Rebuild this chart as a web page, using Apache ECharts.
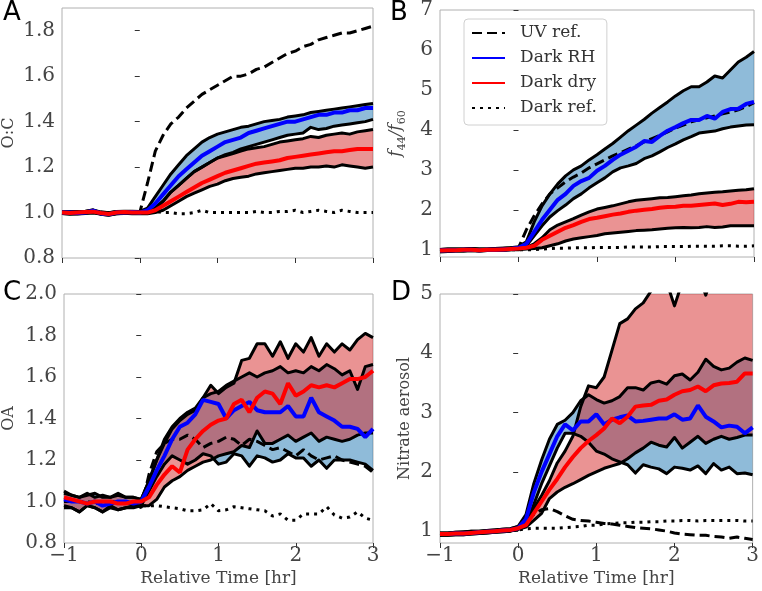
<!DOCTYPE html>
<html><head><meta charset="utf-8">
<script src="https://cdn.jsdelivr.net/npm/echarts@6/dist/echarts.min.js"></script>
<style>html,body{margin:0;padding:0;background:#fff}#c{width:762px;height:591px}</style>
</head><body><div id="c"></div>
<script>
// time axis (hours relative to start)
const times = [-1,-0.9,-0.8,-0.7,-0.6,-0.5,-0.4,-0.3,-0.2,-0.1,0,0.1,0.2,0.3,0.4,0.5,0.6,0.7,0.8,0.9,1,1.1,1.2,1.3,1.4,1.5,1.6,1.7,1.8,1.9,2,2.1,2.2,2.3,2.4,2.5,2.6,2.7,2.8,2.9,3];
const xTicks = [-1,0,1,2,3];

// Panel A: O:C
const aUV = [1.0,1.0,1.0,1.0,1.0,1.0,1.0,1.0,1.0,1.0, 1.0, 1.13,1.27,1.34,1.39,1.42,1.46,1.49,1.52,1.54,1.56, 1.58,1.60,1.60,1.61,1.63,1.64,1.66,1.68,1.70,1.71, 1.73,1.74,1.76,1.77,1.78,1.79,1.79,1.80,1.81,1.82];
const aRH = [1.0,1.0,0.998,1.0,1.008,0.996,0.992,1.0,1.0,1.002, 1.0, 1.01,1.04,1.08,1.12,1.16,1.19,1.22,1.25,1.27,1.29, 1.31,1.32,1.33,1.35,1.36,1.37,1.38,1.39,1.40,1.40, 1.41,1.42,1.43,1.43,1.44,1.44,1.45,1.45,1.46,1.46];
const aRHhi = [1.004,1.004,1.003,1.005,1.012,1.0,0.998,1.005,1.005,1.006, 1.005, 1.02,1.07,1.12,1.17,1.21,1.25,1.28,1.31,1.33,1.345, 1.355,1.365,1.375,1.38,1.39,1.40,1.405,1.41,1.42,1.425, 1.43,1.44,1.445,1.45,1.455,1.46,1.465,1.47,1.475,1.48];
const aRHlo = [0.996,0.995,0.994,0.996,1.003,0.992,0.988,0.995,0.996,0.997, 0.996, 1.0,1.02,1.05,1.09,1.12,1.15,1.18,1.20,1.22,1.24, 1.255,1.265,1.28,1.29,1.30,1.31,1.32,1.33,1.34,1.345, 1.35,1.375,1.365,1.37,1.38,1.385,1.39,1.395,1.40,1.41];
const aDry = [1.0,0.998,1.0,1.002,1.004,0.998,0.994,1.0,1.002,1.0, 1.0, 1.0,1.01,1.03,1.05,1.07,1.09,1.11,1.13,1.145,1.16, 1.175,1.185,1.195,1.205,1.215,1.22,1.225,1.23,1.24,1.245, 1.25,1.255,1.26,1.265,1.27,1.27,1.275,1.28,1.28,1.28];
const aDryHi = [1.004,1.003,1.005,1.006,1.01,1.003,0.999,1.005,1.006,1.005, 1.004, 1.0,1.02,1.05,1.09,1.12,1.15,1.18,1.20,1.22,1.24, 1.25,1.26,1.27,1.28,1.285,1.29,1.30,1.31,1.315,1.32, 1.325,1.335,1.33,1.34,1.345,1.35,1.345,1.355,1.36,1.365];
const aDryLo = [0.996,0.993,0.995,0.997,0.998,0.993,0.989,0.995,0.997,0.995, 0.995, 0.995,1.0,1.01,1.03,1.05,1.07,1.085,1.10,1.115,1.125, 1.14,1.15,1.155,1.16,1.17,1.175,1.18,1.185,1.19,1.195, 1.195,1.20,1.20,1.205,1.20,1.21,1.205,1.20,1.195,1.20];
const aRef = [1.0,1.0,1.0,1.0,1.0,1.0,1.0,1.0,1.0,1.0, 1.0, 1.0,1.005,1.0,1.0,0.995,0.995,1.0,1.01,1.0,1.0, 1.0,1.0,1.0,1.0,1.005,1.0,1.0,1.005,1.005,1.01, 1.0,1.005,1.01,1.005,1.0,1.01,1.005,1.0,1.0,1.0];
const aTicks = [0.8,1.0,1.2,1.4,1.6,1.8];

// Panel B: f44/f60
const bUV = [1.0,0.99,1.0,1.0,1.0,0.99,1.0,1.0,1.01,1.02, 1.05, 1.5,1.85,2.15,2.4,2.55,2.7,2.82,2.92,3.05,3.15, 3.25,3.35,3.43,3.52,3.6,3.7,3.78,3.86,3.95,4.05, 4.12,4.2,4.25,4.3,4.35,4.4,4.45,4.5,4.58,4.68];
const bRH = [0.98,0.99,0.99,1.0,1.0,0.99,1.0,1.0,1.01,1.02, 1.05, 1.15,1.45,1.75,2.0,2.25,2.4,2.6,2.72,2.8,2.98, 3.1,3.25,3.38,3.48,3.58,3.72,3.7,3.85,3.98,4.07, 4.17,4.25,4.25,4.35,4.28,4.45,4.52,4.53,4.65,4.7];
const bRHhi = [1.01,1.02,1.02,1.02,1.03,1.02,1.02,1.03,1.04,1.05, 1.08, 1.2,1.7,2.1,2.4,2.65,2.85,3.0,3.1,3.25,3.38, 3.52,3.66,3.82,3.98,4.12,4.26,4.42,4.56,4.7,4.85, 4.98,5.08,5.08,5.2,5.35,5.3,5.5,5.7,5.82,5.96];
const bRHlo = [0.95,0.96,0.97,0.97,0.98,0.97,0.98,0.98,0.99,1.0, 1.03, 1.1,1.35,1.6,1.82,1.98,2.12,2.28,2.4,2.55,2.68, 2.8,2.95,3.05,3.1,3.16,3.28,3.35,3.45,3.56,3.65, 3.75,3.83,3.92,3.95,3.97,4.03,4.07,4.1,4.12,4.13];
const bDry = [0.98,0.99,0.99,1.0,1.0,0.99,1.0,1.0,1.01,1.02, 1.03, 1.05,1.1,1.25,1.35,1.45,1.55,1.62,1.7,1.77,1.8, 1.84,1.88,1.91,1.95,1.98,2.0,2.02,2.05,2.07,2.08, 2.1,2.1,2.12,2.14,2.16,2.12,2.15,2.2,2.19,2.2];
const bDryHi = [1.01,1.02,1.02,1.02,1.03,1.02,1.02,1.03,1.04,1.05, 1.06, 1.06,1.15,1.3,1.5,1.62,1.7,1.78,1.87,1.95,2.02, 2.06,2.1,2.15,2.2,2.24,2.26,2.28,2.3,2.31,2.33, 2.35,2.37,2.4,2.42,2.44,2.45,2.47,2.49,2.5,2.53];
const bDryLo = [0.95,0.96,0.97,0.97,0.98,0.97,0.98,0.98,0.99,1.0, 1.0, 1.02,1.03,1.05,1.1,1.15,1.22,1.27,1.3,1.33,1.36, 1.4,1.42,1.44,1.46,1.48,1.49,1.5,1.52,1.54,1.55, 1.56,1.55,1.56,1.58,1.56,1.57,1.6,1.6,1.6,1.6];
const bRef = [1.0,1.0,1.0,1.0,1.0,1.0,1.0,1.0,1.0,1.0, 1.0, 1.0,1.0,1.02,1.03,1.04,1.04,1.05,1.05,1.05,1.06, 1.06,1.06,1.06,1.07,1.07,1.07,1.07,1.08,1.08,1.08, 1.08,1.09,1.09,1.09,1.09,1.1,1.1,1.09,1.09,1.1];
const bTicks = [1,2,3,4,5,6,7];

// Panel C: OA
const cUV = [1.0,1.0,1.0,0.99,1.0,1.0,0.99,1.0,1.0,0.99, 0.97, 1.13,1.24,1.28,1.3,1.3,1.32,1.3,1.26,1.28,1.29, 1.31,1.3,1.27,1.3,1.29,1.27,1.25,1.26,1.24,1.22, 1.25,1.22,1.2,1.21,1.22,1.2,1.19,1.18,1.17,1.14];
const cRH = [1.01,1.0,1.0,0.99,1.0,0.98,0.99,1.0,1.0,0.99, 1.0, 1.07,1.15,1.22,1.3,1.36,1.38,1.42,1.49,1.48,1.47, 1.40,1.44,1.46,1.48,1.44,1.43,1.43,1.43,1.46,1.41, 1.41,1.50,1.43,1.41,1.39,1.36,1.36,1.35,1.31,1.35];
const cRHhi = [1.04,1.03,1.02,1.03,1.04,1.02,1.02,1.04,1.02,1.02, 1.01, 1.1,1.2,1.3,1.36,1.4,1.43,1.45,1.5,1.52,1.53, 1.56,1.58,1.6,1.62,1.6,1.62,1.63,1.65,1.62,1.63, 1.62,1.65,1.63,1.66,1.64,1.61,1.63,1.54,1.65,1.66];
const cRHlo = [0.97,0.97,0.95,0.98,0.97,0.95,0.97,0.96,0.97,0.97, 0.98, 1.05,1.12,1.18,1.22,1.2,1.18,1.2,1.23,1.22,1.18, 1.19,1.23,1.22,1.17,1.22,1.21,1.19,1.2,1.23,1.21, 1.21,1.17,1.2,1.16,1.2,1.2,1.2,1.19,1.18,1.15];
const cDry = [1.02,1.01,1.0,0.99,1.0,1.0,1.0,0.99,0.99,1.0, 1.0, 1.02,1.08,1.13,1.17,1.14,1.25,1.3,1.34,1.37,1.39, 1.40,1.47,1.49,1.43,1.5,1.53,1.52,1.47,1.57,1.51, 1.53,1.56,1.55,1.56,1.55,1.57,1.59,1.59,1.6,1.63];
const cDryHi = [1.05,1.03,1.02,1.04,1.02,1.03,1.02,1.03,1.02,1.02, 1.01, 1.1,1.2,1.28,1.35,1.39,1.42,1.44,1.5,1.56,1.52, 1.55,1.57,1.68,1.69,1.76,1.76,1.7,1.77,1.69,1.76, 1.72,1.79,1.7,1.76,1.72,1.76,1.73,1.78,1.81,1.79];
const cDryLo = [0.98,0.97,0.95,0.98,0.97,0.95,0.98,0.96,0.97,0.98, 0.98, 0.98,1.01,1.07,1.1,1.12,1.15,1.17,1.19,1.2,1.22, 1.23,1.24,1.27,1.26,1.34,1.28,1.28,1.3,1.32,1.29, 1.31,1.33,1.29,1.31,1.3,1.29,1.3,1.32,1.33,1.33];
const cRef = [1.0,1.0,1.0,1.0,0.99,1.0,1.0,1.0,0.99,0.99, 0.98, 0.98,0.98,0.975,0.97,0.965,0.955,0.955,0.96,0.99,0.955, 0.96,0.975,0.97,0.965,0.96,0.955,0.93,0.94,0.91,0.91, 0.94,0.94,0.94,0.975,0.935,0.92,0.925,0.95,0.92,0.91];
const cTicks = [0.8,1.0,1.2,1.4,1.6,1.8,2.0];

// Panel D: Nitrate aerosol
const dUV = [0.96,0.95,0.96,0.97,0.97,0.98,0.99,1.0,1.01,1.03, 1.05, 1.15,1.28,1.36,1.38,1.33,1.26,1.2,1.18,1.17,1.15, 1.13,1.12,1.1,1.08,1.06,1.05,1.04,1.02,1.0,0.97, 0.95,0.94,0.93,0.93,0.91,0.9,0.88,0.9,0.88,0.86];
const dRH = [0.95,0.95,0.96,0.96,0.97,0.98,0.99,1.0,1.01,1.02, 1.05, 1.2,1.65,2.0,2.3,2.6,2.8,2.7,2.85,2.85,2.97, 2.8,2.88,2.92,2.95,2.85,2.86,2.88,2.9,2.9,2.97, 2.88,2.9,3.12,2.93,2.85,2.75,2.78,2.76,2.65,2.75];
const dRHhi = [0.97,0.97,0.98,0.98,1.0,1.0,1.01,1.02,1.03,1.04, 1.08, 1.28,1.8,2.2,2.55,2.8,2.87,3.0,3.2,3.3,3.22, 3.16,3.2,3.27,3.42,3.42,3.38,3.5,3.53,3.48,3.62, 3.65,3.55,3.68,3.9,3.78,3.72,3.75,3.85,3.92,3.88];
const dRHlo = [0.93,0.93,0.94,0.94,0.95,0.96,0.97,0.98,0.99,1.0, 1.03, 1.12,1.45,1.8,2.1,2.4,2.65,2.65,2.6,2.5,2.35, 2.3,2.22,2.17,2.12,1.98,2.12,2.08,2.05,1.97,2.08, 2.06,2.03,2.1,1.97,2.14,2.03,2.08,1.97,1.98,1.95];
const dDry = [0.95,0.95,0.96,0.96,0.97,0.98,0.99,1.0,1.01,1.02, 1.05, 1.1,1.3,1.5,1.7,1.88,2.08,2.25,2.4,2.52,2.62, 2.73,2.9,2.82,2.93,3.1,3.12,3.13,3.2,3.22,3.3, 3.36,3.38,3.44,3.36,3.46,3.49,3.5,3.52,3.66,3.66];
const dDryHi = [0.97,0.97,0.98,0.99,1.0,1.0,1.01,1.02,1.03,1.04, 1.08, 1.15,1.38,1.6,1.85,2.15,2.35,2.6,3.1,3.45,3.42, 3.6,4.05,4.5,4.58,4.75,4.85,5.05,5.15,5.2,4.8, 5.2,5.3,5.35,4.98,5.4,5.45,5.5,5.5,5.5,5.5];
const dDryLo = [0.93,0.93,0.94,0.94,0.95,0.96,0.97,0.98,0.99,1.0, 1.03, 1.07,1.18,1.3,1.55,1.66,1.74,1.8,1.87,1.94,2.0, 2.06,2.1,2.14,2.22,2.32,2.4,2.5,2.45,2.42,2.58, 2.4,2.5,2.6,2.48,2.55,2.6,2.55,2.58,2.62,2.62];
const dRef = [0.96,0.96,0.97,0.97,0.98,0.98,0.99,1.0,1.0,1.01, 1.02, 1.04,1.05,1.05,1.05,1.05,1.06,1.07,1.08,1.1,1.1, 1.12,1.13,1.14,1.14,1.15,1.15,1.16,1.16,1.17,1.17, 1.18,1.18,1.17,1.18,1.18,1.18,1.18,1.18,1.17,1.17];
const dTicks = [1,2,3,4,5];

const seriesNames = ['UV ref.','Dark RH','Dark dry','Dark ref.'];
const panelLetters = ['A','B','C','D'];

const SERIF = 'DejaVu Serif';
const panels = [
  {grid:{left:60,top:8,width:313,height:250}, ymin:0.8, ymax:1.9, ticks:aTicks, dec:1, name:'O:C', gap:45, showX:false,
   d:{uv:aUV, rh:aRH, rhHi:aRHhi, rhLo:aRHlo, dry:aDry, dryHi:aDryHi, dryLo:aDryLo, ref:aRef}},
  {grid:{left:440,top:8,width:314,height:249}, ymin:0.82, ymax:7, ticks:bTicks, dec:0, name:'{i|f}{s|44}{n|/}{i|f}{s|60}', gap:32, showX:false,
   d:{uv:bUV, rh:bRH, rhHi:bRHhi, rhLo:bRHlo, dry:bDry, dryHi:bDryHi, dryLo:bDryLo, ref:bRef}},
  {grid:{left:60,top:294,width:313,height:249}, ymin:0.8, ymax:2.0, ticks:cTicks, dec:1, name:'OA', gap:47, showX:true,
   d:{uv:cUV, rh:cRH, rhHi:cRHhi, rhLo:cRHlo, dry:cDry, dryHi:cDryHi, dryLo:cDryLo, ref:cRef}},
  {grid:{left:440,top:294,width:314,height:249}, ymin:0.8, ymax:5, ticks:dTicks, dec:0, name:'Nitrate aerosol', gap:27, showX:true,
   d:{uv:dUV, rh:dRH, rhHi:dRHhi, rhLo:dRHlo, dry:dDry, dryHi:dDryHi, dryLo:dDryLo, ref:dRef}}
];

function pts(arr){ return times.map((t,i)=>[t, arr[i]]); }

const grids=[], xAxes=[], yAxes=[], series=[];
panels.forEach((p,i)=>{
  grids.push(Object.assign({show:true, borderColor:'#b0b0b0', borderWidth:1, backgroundColor:'transparent', containLabel:false}, p.grid));
  xAxes.push({type:'value', gridIndex:i, min:-1, max:3,
    axisLine:{show:false}, splitLine:{show:false},
    axisTick:{show:true, customValues:xTicks, length:5, lineStyle:{color:'#333', width:1}},
    axisLabel:{show:p.showX, customValues:xTicks, margin:3, fontFamily:SERIF, fontSize:20, color:'#444',
      formatter:v=> v<0 ? '\u2212'+Math.abs(v) : String(v)},
    name:p.showX?'Relative Time [hr]':'', nameLocation:'middle', nameGap:27,
    nameTextStyle:{fontFamily:SERIF, fontSize:17, color:'#444'}
  });
  yAxes.push({type:'value', gridIndex:i, min:p.ymin, max:p.ymax,
    axisLine:{show:false}, splitLine:{show:false},
    axisTick:{show:true, customValues:p.ticks, length:5, lineStyle:{color:'#333', width:1}},
    axisLabel:{customValues:p.ticks, margin:7, fontFamily:SERIF, fontSize:20, color:'#444',
      formatter:v=> v.toFixed(p.dec)},
    name:p.name, nameLocation:'middle', nameGap:p.gap, nameRotate:90,
    nameTextStyle:{fontFamily:SERIF, fontSize:16, color:'#444',
      rich:{ i:{fontFamily:SERIF, fontStyle:'italic', fontSize:17, color:'#444', lineHeight:24, verticalAlign:'middle'},
             s:{fontFamily:SERIF, fontSize:11, color:'#444', lineHeight:24, verticalAlign:'bottom'},
             n:{fontFamily:SERIF, fontStyle:'italic', fontSize:17, color:'#444', lineHeight:24, verticalAlign:'middle'} }}
  });
  const base = {type:'line', xAxisIndex:i, yAxisIndex:i, symbol:'none', silent:true, animation:false};
  // shaded bands drawn as polygons through the axes' coordinate mapping
  [['rh','rgba(31,119,180,0.5)'],['dry','rgba(214,39,40,0.5)']].forEach(([k,col])=>{
    const lo=p.d[k+'Lo'], hi=p.d[k+'Hi'];
    series.push({type:'custom', name:'_band'+i+k, xAxisIndex:i, yAxisIndex:i, silent:true, clip:true, z:1,
      data:[[times[0], lo[0]]],
      renderItem:(params, api)=>{
        const up = times.map((t,j)=>api.coord([t, hi[j]]));
        const dn = times.map((t,j)=>api.coord([t, lo[j]])).reverse();
        const cs = params.coordSys;
        return {type:'polygon', shape:{points:up.concat(dn)}, style:{fill:col, stroke:null},
          clipPath:{type:'rect', shape:{x:cs.x, y:cs.y, width:cs.width, height:cs.height}}};
      }});
  });
  // black band edges
  ['rhLo','rhHi','dryLo','dryHi'].forEach(k=>{
    series.push(Object.assign({}, base, {name:'_edge'+i+k, data:pts(p.d[k]), lineStyle:{color:'#000', width:3, join:'round'}, z:2}));
  });
  series.push(Object.assign({}, base, {name:seriesNames[0], data:pts(p.d.uv), itemStyle:{color:'#000'}, lineStyle:{color:'#000', width:3, type:[10,5]}, z:3}));
  series.push(Object.assign({}, base, {name:seriesNames[3], data:pts(p.d.ref), itemStyle:{color:'#000'}, lineStyle:{color:'#000', width:3, type:[3,5]}, z:3}));
  series.push(Object.assign({}, base, {name:seriesNames[1], data:pts(p.d.rh), itemStyle:{color:'#0000ff'}, lineStyle:{color:'#0000ff', width:4}, z:4}));
  series.push(Object.assign({}, base, {name:seriesNames[2], data:pts(p.d.dry), itemStyle:{color:'#ff0000'}, lineStyle:{color:'#ff0000', width:4}, z:5}));
});

const letterPos = [[3,0],[390,0],[3,280],[391,280]];
const graphics = panelLetters.map((L,i)=>({type:'text', left:letterPos[i][0], top:letterPos[i][1],
  style:{text:L, fontFamily:'DejaVu Sans', fontSize:26, fill:'#000'}}));

const chart = echarts.init(document.getElementById('c'), null, {renderer:'canvas'});
chart.setOption({
  animation:false,
  backgroundColor:'#fff',
  grid:grids, xAxis:xAxes, yAxis:yAxes, series:series,
  graphic:graphics,
  legend:{data:seriesNames, orient:'vertical', left:464, top:19, selectedMode:false,
    backgroundColor:'#fff', borderColor:'#d0d0d0', borderWidth:1, borderRadius:4,
    padding:[5,10,8,7], itemWidth:33, itemHeight:14, itemGap:7,
    itemStyle:{opacity:0},
    textStyle:{fontFamily:SERIF, fontSize:17, color:'#333', lineHeight:18, padding:[0,0,0,10]}}
});
</script></body></html>
